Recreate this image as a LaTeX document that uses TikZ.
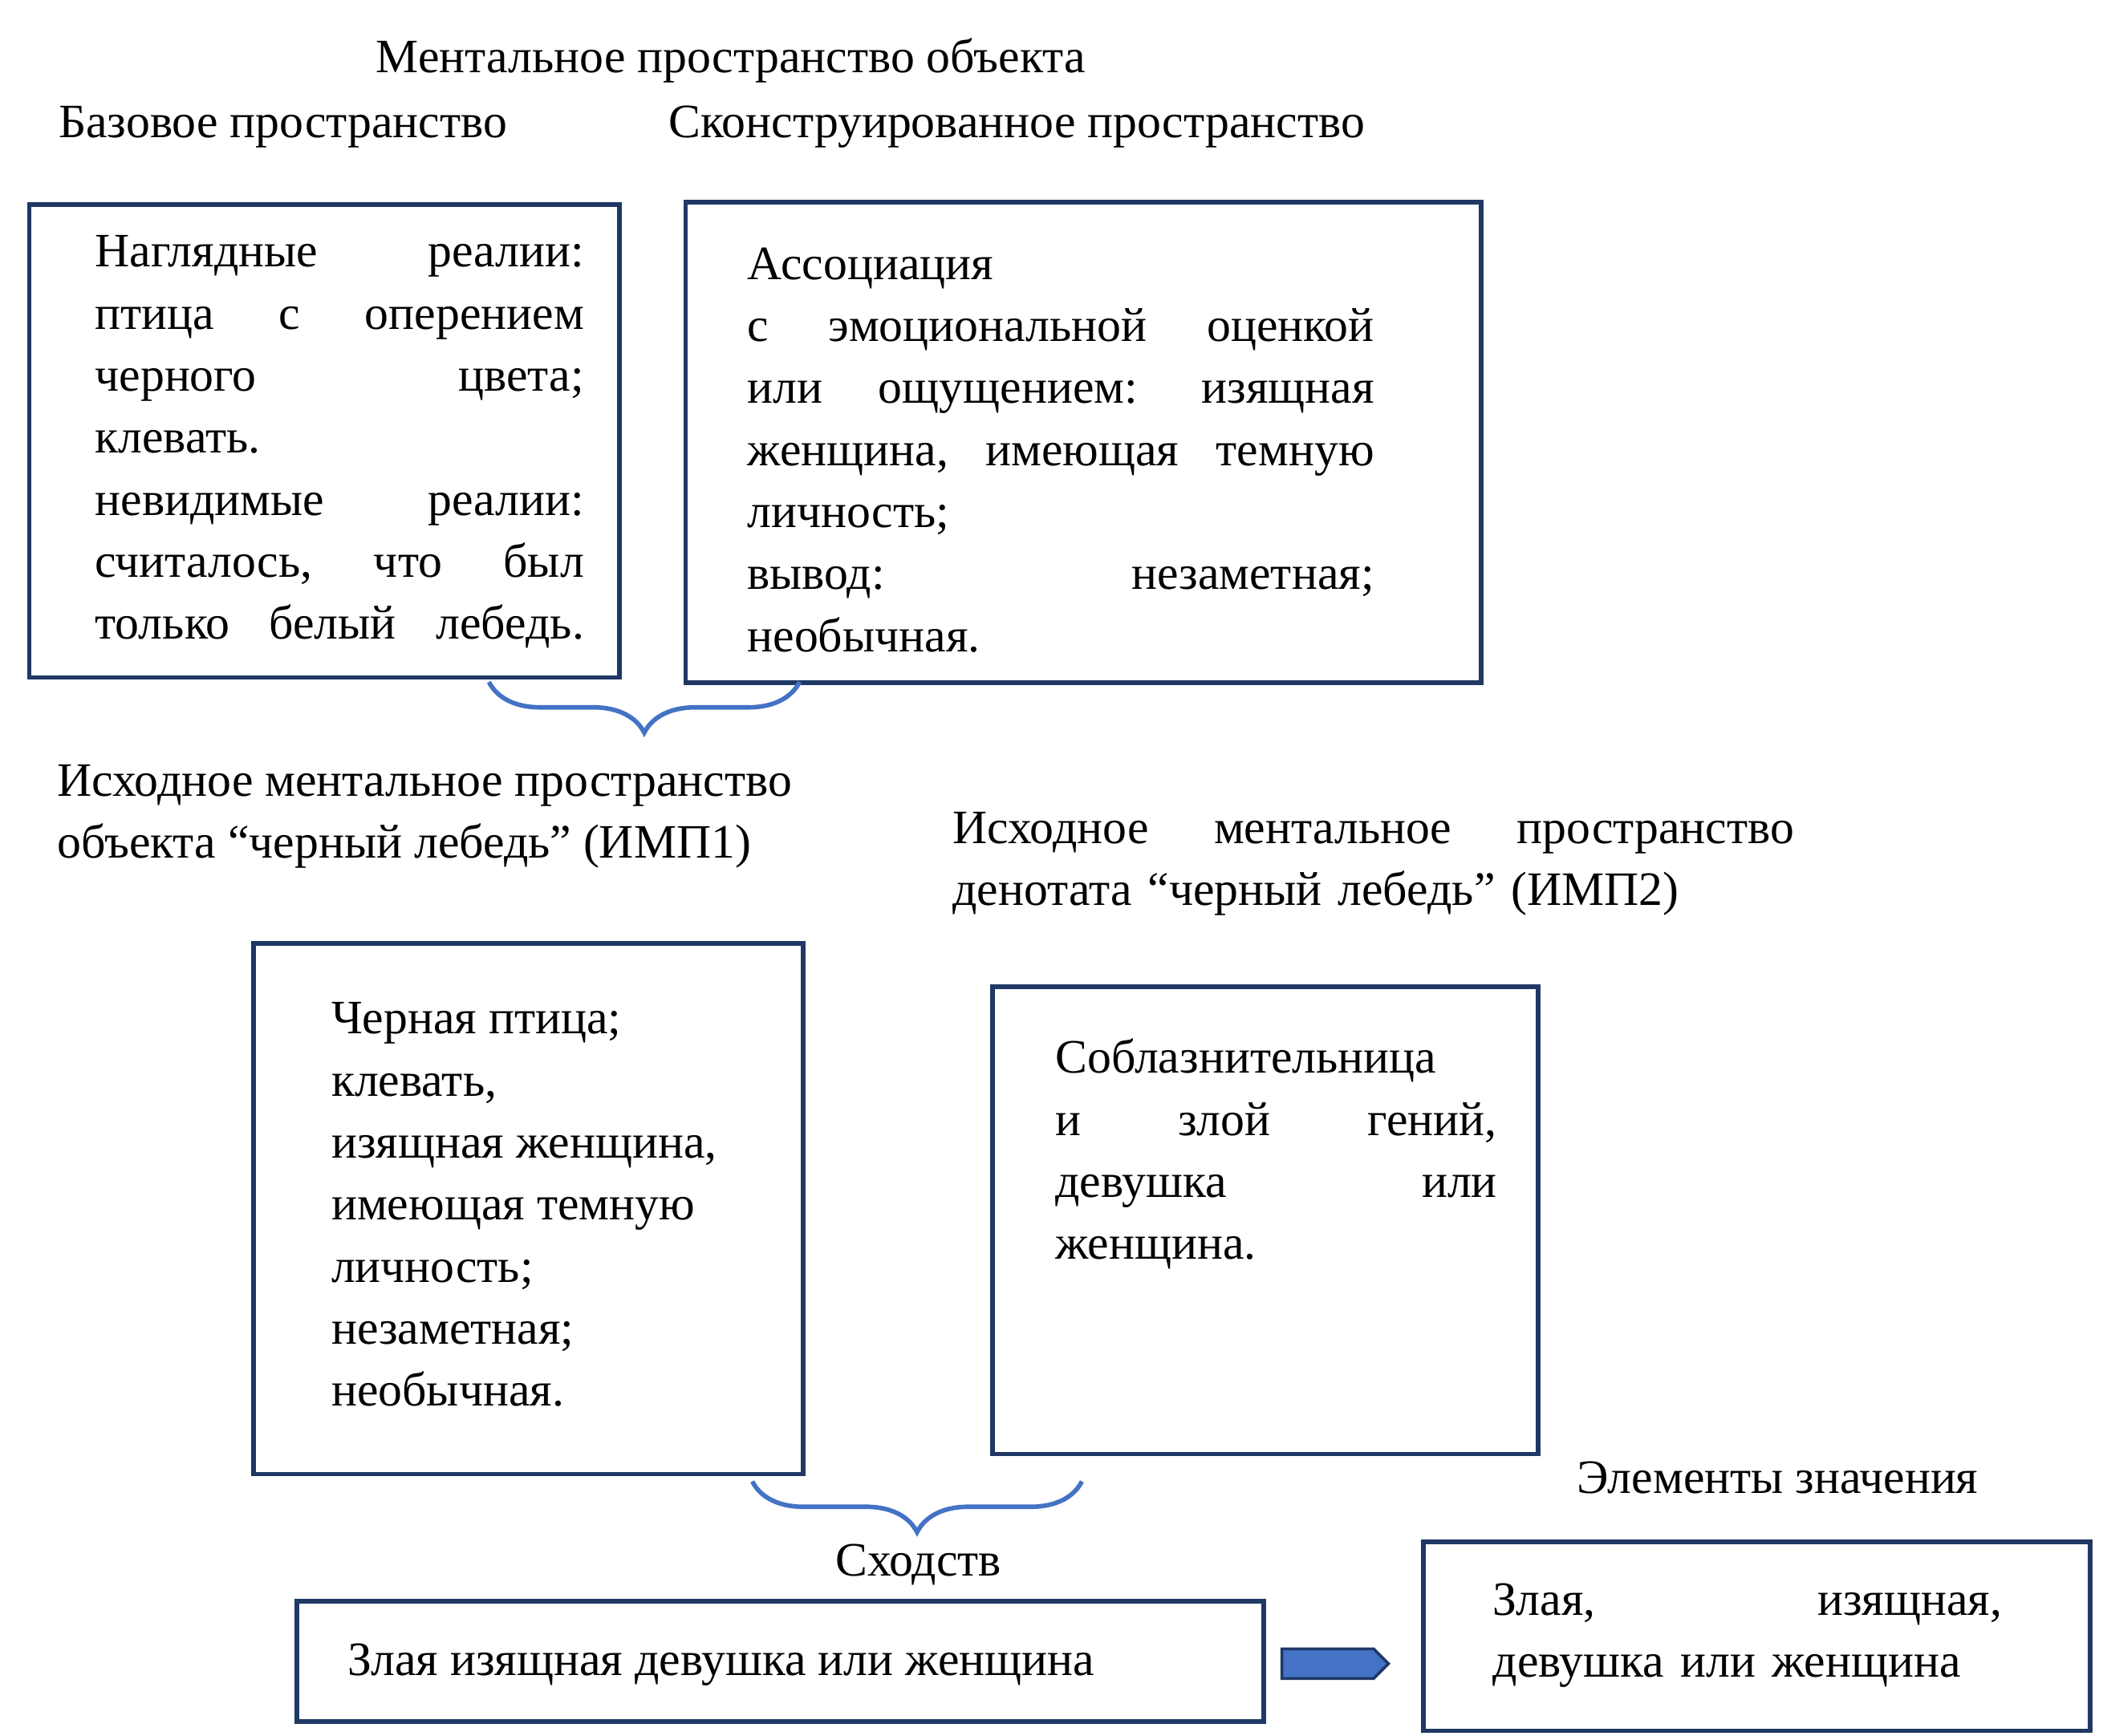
\documentclass[tikz,border=0pt]{standalone}
\usepackage{fontspec}
\setmainfont{Liberation Serif}
\usetikzlibrary{decorations.pathreplacing,shapes.arrows}
\definecolor{boxline}{RGB}{31,56,100}
\definecolor{braceblue}{RGB}{68,114,196}
\tikzset{
  box/.style={draw=boxline,line width=1.6pt,anchor=north west,inner sep=0pt},
  txt/.style={anchor=north west,inner sep=0pt,align=left,font=\fontsize{17}{22}\selectfont},
  lbl/.style={anchor=north west,inner sep=0pt,font=\fontsize{17}{22}\selectfont},
  brc/.style={draw=braceblue,line width=1.6pt,decorate,decoration={brace,mirror,amplitude=18pt}}
}
\begin{document}
\begin{tikzpicture}[x=0.01683cm,y=-0.01683cm]
	\useasboundingbox (0,0) rectangle (1560,1285);
	% titles
	\node[lbl] (tmain) at (278,28) {Ментальное пространство объекта};
	\node[lbl] (tbase) at (43,78) {Базовое пространство};
	\node[lbl] (tcons) at (495,78) {Сконструированное пространство};
	% upper boxes
	\node[box,minimum width=437*0.01683cm,minimum height=350*0.01683cm] (base) at (20,150) {};
	\node[txt,text width=362*0.01683cm] (basetxt) at (70,174) {Наглядные \hfill реалии:\\ птица \hfill с \hfill оперением\\ черного \hfill цвета;\\ клевать.\\ невидимые \hfill реалии:\\ считалось, \hfill что \hfill был\\ только \hfill белый \hfill лебедь.};
	\node[box,minimum width=589*0.01683cm,minimum height=356*0.01683cm] (cons) at (506,148) {};
	\node[txt,text width=464*0.01683cm] (constxt) at (553,183) {Ассоциация\\ с \hfill эмоциональной \hfill оценкой\\ или \hfill ощущением: \hfill изящная\\ женщина, \hfill имеющая \hfill темную\\ личность;\\ вывод: \hfill незаметная;\\ необычная.};
	\coordinate (b1l) at (362,505);
	\coordinate (b1r) at (592,505);
	\draw[brc] (b1l) -- (b1r);
	% middle labels
	\node[lbl,align=left] (imp1) at (42,566) {Исходное ментальное пространство\\ объекта “черный лебедь” (ИМП1)};
	\node[lbl,align=left,text width=623*0.01683cm] (imp2) at (705,601) {Исходное \hfill ментальное \hfill пространство\\ денотата “черный лебедь” (ИМП2)};
	% middle boxes
	\node[box,minimum width=407*0.01683cm,minimum height=393*0.01683cm] (obj) at (186,697) {};
	\node[txt] (objtxt) at (245,742) {Черная птица;\\ клевать,\\ изящная женщина,\\ имеющая темную\\ личность;\\ незаметная;\\ необычная.};
	\node[box,minimum width=404*0.01683cm,minimum height=346*0.01683cm] (den) at (733,729) {};
	\node[txt,text width=327*0.01683cm] (dentxt) at (781,769) {Соблазнительница\\ и \hfill злой \hfill гений,\\ девушка \hfill или\\ женщина.};
	\coordinate (b2l) at (557,1097);
	\coordinate (b2r) at (801,1097);
	\draw[brc] (b2l) -- (b2r);
	% bottom
	\node[lbl,anchor=north] (sim) at (680,1143) {Сходств};
	\node[box,minimum width=716*0.01683cm,minimum height=89*0.01683cm] (res) at (218,1184) {};
	\node[lbl] (restxt) at (257,1217) {Злая изящная девушка или женщина};
	\node[single arrow,draw=boxline,fill=braceblue,line width=1pt,minimum height=79*0.01683cm,minimum width=22*0.01683cm,single arrow head extend=0pt,inner sep=1pt,anchor=west] (arr) at (948,1232) {};
	\node[lbl] (tmean) at (1167,1082) {Элементы значения};
	\node[box,minimum width=494*0.01683cm,minimum height=140*0.01683cm] (mean) at (1052,1140) {};
	\node[txt,text width=377*0.01683cm] (meantxt) at (1105,1172) {Злая, \hfill изящная,\\ девушка или женщина};
\end{tikzpicture}
\end{document}
